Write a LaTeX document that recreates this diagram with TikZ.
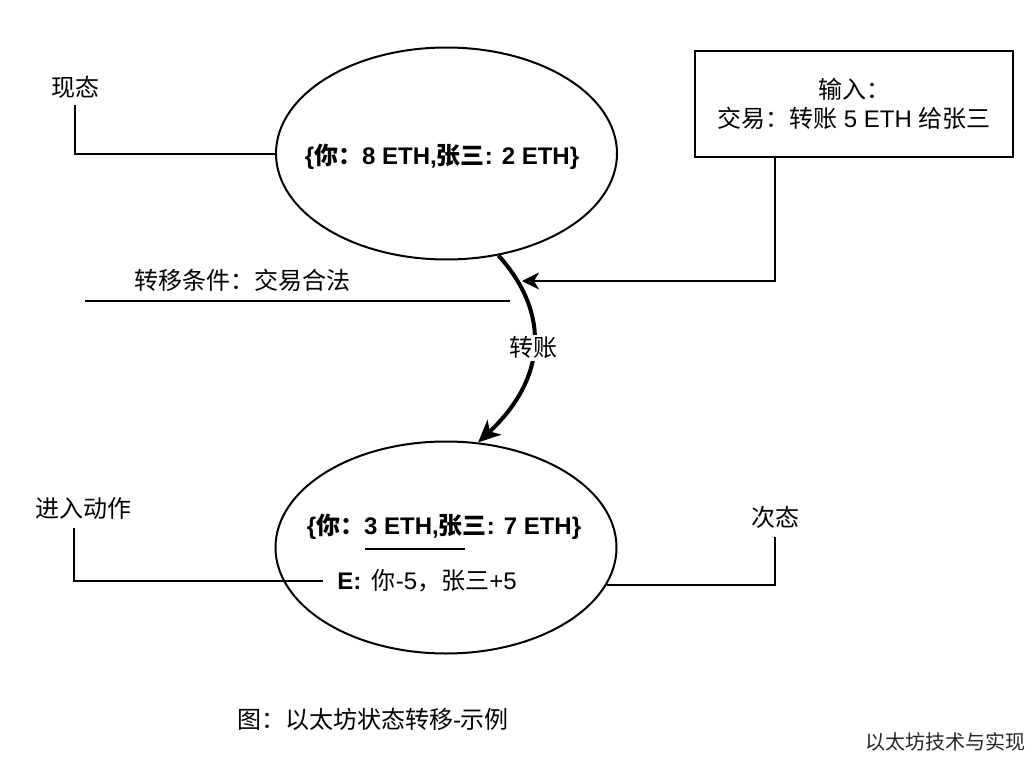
\documentclass[tikz,border=0pt]{standalone}
\usepackage{fontspec}
\setmainfont{Liberation Sans}
\newfontfamily\cjk{Noto Sans CJK SC}
\newcommand\zh[1]{{\cjk #1}}
\usetikzlibrary{arrows.meta,shapes.geometric}
\begin{document}
\begin{tikzpicture}[x=1pt,y=-1pt,
  txt/.style={inner sep=0pt, font=\fontsize{24}{30}\selectfont},
  ln/.style={line width=2pt},
  state/.style={ellipse, draw, line width=2pt, minimum width=341pt, minimum height=212pt, inner sep=0pt},
  tipA/.style={-{Stealth[length=17pt,width=17pt,inset=5pt]}},
  tipB/.style={-{Stealth[length=22pt,width=20pt,inset=6pt]}}]
\useasboundingbox[fill=white] (0,0) rectangle (1034,760);

% states
\node[state] (s1) at (446.5,153.5) {};
\node[state] (s2) at (446,547.5) {};

\node[txt] (t1) at (442,157) {\bfseries\{\zh{你：}8 ETH,\zh{张三}: 2 ETH\}};
\node[txt] (t2) at (444,527) {\bfseries\{\zh{你：}3 ETH,\zh{张三}: 7 ETH\}};
\node[txt] (e2) at (427,581) {\textbf{E:}\, \zh{你}-5\zh{，张三}+5};
\coordinate (u1) at (365,549);
\coordinate (u2) at (465,549);
\draw[ln] (u1) -- (u2);

% labels
\node[txt] (lab1) at (75,87) {\zh{现态}};
\coordinate (a1) at (75,105);
\draw[ln] (a1) |- (s1.west);

\node[txt] (lab2) at (83,508) {\zh{进入动作}};
\coordinate (a2) at (74,528);
\draw[ln] (a2) |- ([xshift=-14pt]e2.west);

\node[txt] (lab3) at (775,517) {\zh{次态}};
\coordinate (a3) at (775,537);
\draw[ln] (a3) |- (s2.-13.9);

% input box
\node[draw, line width=2pt, minimum width=318pt, minimum height=106pt, inner sep=0pt,
      align=center, font=\fontsize{24}{29}\selectfont] (inp) at (854,104)
      {\zh{输入：}\\[-0.5pt]\zh{交易：转账} 5 ETH \zh{给张三}};
\coordinate (tip1) at (522,281);
\draw[ln,tipA] ([xshift=-79pt]inp.south) |- (tip1);

% condition
\node[txt] (cond) at (242,280) {\zh{转移条件：交易合法}};
\coordinate (c1) at (85,301);
\coordinate (c2) at (510,301);
\draw[ln] (c1) -- (c2);

% transition
\draw[line width=4pt,tipB] (s1.-63.5) .. controls (552,315) and (545,380) .. (s2.73)
  node[pos=0.5, fill=white, inner sep=2pt, font=\fontsize{24}{30}\selectfont] (tr) {\zh{转账}};

% caption
\node[txt] (cap) at (373,719) {\zh{图：以太坊状态转移}-\zh{示例}};
\node[inner sep=0pt, font=\fontsize{20}{23}\selectfont, text=black!85] (wm) at (945,742) {\zh{以太坊技术与实现}};
\end{tikzpicture}
\end{document}
